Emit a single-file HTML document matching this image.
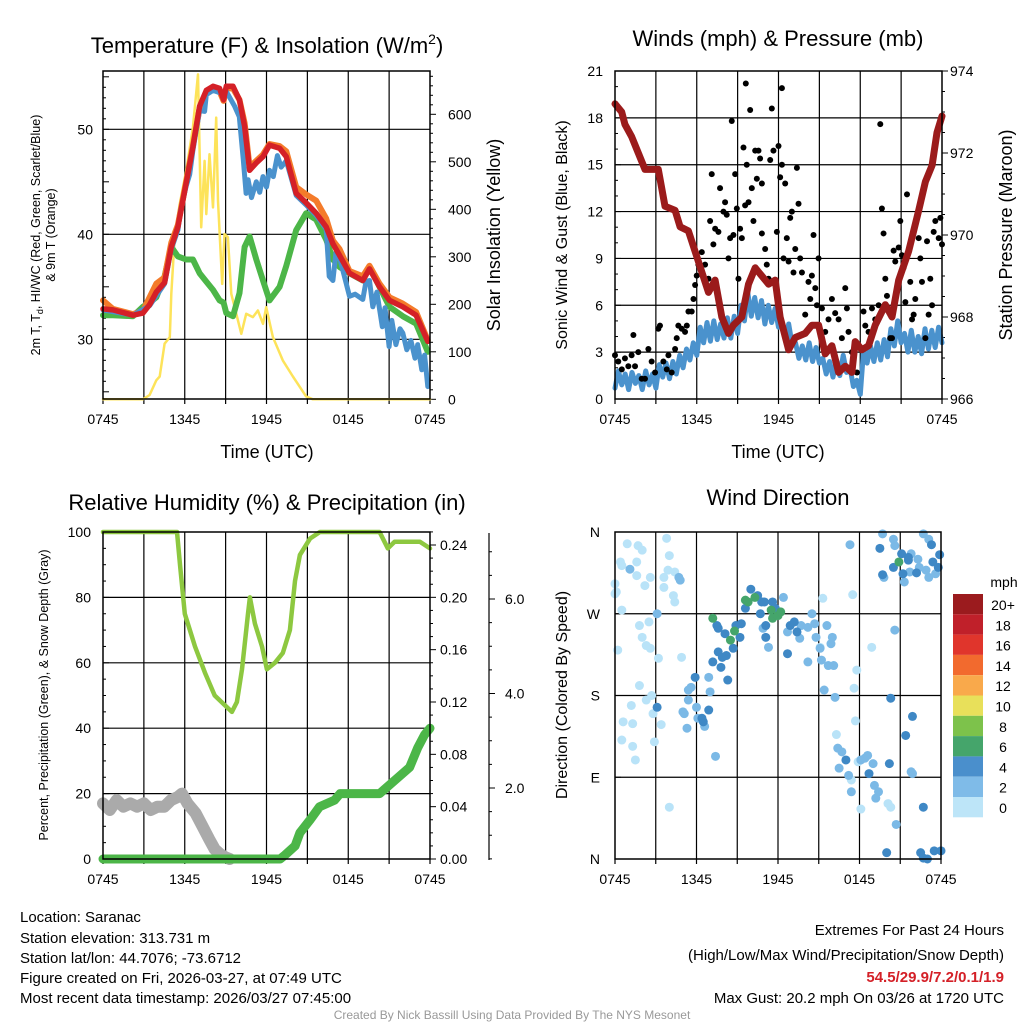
<!DOCTYPE html>
<html><head><meta charset="utf-8">
<style>
html,body{margin:0;padding:0;background:#fff;}
svg{display:block;font-family:"Liberation Sans",Arial,sans-serif;}
</style></head>
<body>
<svg id="chart" width="1024" height="1024" viewBox="0 0 1024 1024" xmlns="http://www.w3.org/2000/svg">
<rect width="1024" height="1024" fill="#fff"/>
<text x="267" y="53" font-size="22" text-anchor="middle">Temperature (F) &amp; Insolation (W/m<tspan font-size="14" dy="-9">2</tspan><tspan dy="9">)</tspan></text>
<text x="778" y="46" font-size="22" text-anchor="middle">Winds (mph) &amp; Pressure (mb)</text>
<text x="267" y="510" font-size="22" text-anchor="middle">Relative Humidity (%) &amp; Precipitation (in)</text>
<text x="778" y="505" font-size="22" text-anchor="middle">Wind Direction</text>
<g id="layer"></g>
<g font-size="15">
<text x="20" y="922">Location: Saranac</text>
<text x="20" y="943">Station elevation: 313.731 m</text>
<text x="20" y="963">Station lat/lon: 44.7076; -73.6712</text>
<text x="20" y="983">Figure created on Fri, 2026-03-27, at 07:49 UTC</text>
<text x="20" y="1003">Most recent data timestamp: 2026/03/27 07:45:00</text>
</g>
<g font-size="15" text-anchor="end">
<text x="1004" y="935">Extremes For Past 24 Hours</text>
<text x="1004" y="960">(High/Low/Max Wind/Precipitation/Snow Depth)</text>
<text x="1004" y="982" fill="#d42027" font-weight="bold">54.5/29.9/7.2/0.1/1.9</text>
<text x="1004" y="1003">Max Gust: 20.2 mph On 03/26 at 1720 UTC</text>
</g>
<text x="512" y="1019" font-size="12" fill="#999" text-anchor="middle">Created By Nick Bassill Using Data Provided By The NYS Mesonet</text>
</svg>
<script>
// ---------- data ----------
const timeTicks = ["0745","1345","1945","0145","0745"];
const tempHours = [0,0.73,2.2,2.93,3.42,3.91,4.52,5.01,5.5,6.11,6.6,7.09,7.58,8.07,8.56,8.85,9.05,9.54,10.02,10.39,10.76,11.25,11.74,12.22,12.96,13.45,14.18,14.91,15.65,16.38,16.87,17.36,18.09,19.07,19.56,20.29,21.03,22.0,22.98,23.84];
const redTemp = [32.9,32.8,32.3,32.5,33.3,34.5,35.4,38.8,40.7,44.9,48.3,52.2,53.7,54.1,53.9,52.8,54.1,54.1,52.8,50.3,46.1,46.8,47.4,48.5,48.2,47.4,43.9,43.0,42.0,40.7,39.1,38.0,36.3,35.6,36.7,35.0,33.7,33.1,32.3,29.8];
const orangeTemp = [33.7,32.9,32.4,32.7,34.0,35.3,35.9,39.2,40.9,45.0,48.4,52.0,53.4,53.8,53.6,52.7,53.9,53.9,52.8,50.6,46.4,47.0,47.6,48.6,48.4,47.9,44.5,43.8,43.2,41.5,39.4,38.6,36.5,36.0,37.0,35.3,34.0,33.4,32.6,29.9];
const greenTemp = [32.3,32.3,32.2,33.1,33.5,34.0,36.0,38.8,37.9,37.6,37.6,36.3,35.5,34.7,33.7,33.5,32.5,32.2,34.4,38.8,39.8,37.6,35.6,33.7,35.0,37.0,40.4,42.0,41.4,39.5,37.6,36.9,36.3,35.6,36.9,35.0,33.1,32.2,31.5,28.8];
const blueHours = [0,2.2,3.42,4.52,5.01,5.5,5.7,6.11,6.36,6.6,7.09,7.46,7.58,8.07,8.56,9.05,9.66,10.0,10.3,10.5,10.65,10.9,11.25,11.5,11.74,12.0,12.22,12.5,12.8,13.08,13.45,14.18,14.91,15.65,16.38,16.6,16.87,17.1,17.36,18.09,18.5,19.07,19.3,19.56,19.8,20.1,20.5,20.7,21.0,21.2,21.5,21.8,22.0,22.3,22.6,22.9,23.1,23.4,23.6,23.84];
const blueTemp = [32.8,32.3,33.2,35.3,38.6,40.4,42.3,44.6,45.7,48.0,51.8,51.7,53.3,53.7,53.5,53.6,52.2,51.2,47.1,43.9,45.2,43.5,45.0,44.0,45.5,44.5,46.1,45.5,47.5,46.4,47.0,43.7,42.8,41.8,40.5,36.0,35.6,38.3,37.8,34.1,34.3,33.8,35.5,35.6,33.1,34.5,31.2,33.0,29.3,31.8,29.5,31.0,30.6,29.0,29.9,28.2,29.5,27.1,28.5,25.5];
const solarHours = [0,2.93,3.42,3.91,4.16,4.52,4.9,4.95,5.01,5.26,5.63,6.11,6.6,6.97,7.09,7.21,7.46,7.58,7.82,8.07,8.31,8.44,8.75,8.92,9.17,9.42,9.78,10.15,10.51,11.0,11.37,11.74,11.98,12.47,13.2,13.94,14.91,15.4,24];
const solarW = [0,0,9,40,48,117,131,166,222,341,411,481,572,684,523,362,502,390,516,404,593,418,243,348,341,222,180,138,180,173,187,159,194,131,82,48,6,0,0];

const windMph = [0.7,1.8,0.9,1.6,0.6,1.7,1.0,1.5,0.6,1.8,0.9,1.6,0.7,
 2.2,1.4,2.3,1.3,2.4,1.6,2.8,2.0,
 3.2,2.5,3.6,2.8,
 4.6,3.6,4.9,3.7,5.0,3.8,4.8,3.9,
 5.2,3.9,5.3,4.2,
 6.0,5.0,6.8,5.3,6.5,5.2,
 6.3,4.8,6.0,4.9,5.8,4.6,
 5.0,3.8,4.8,3.5,
 3.6,2.6,3.4,2.5,3.6,2.4,3.3,2.3,
 2.6,1.6,2.4,1.4,2.5,1.5,2.8,1.7,
 2.0,0.8,1.2,0.3,
 3.2,2.3,3.4,2.4,3.6,2.5,3.8,2.7,
 4.5,3.4,5.0,3.6,
 4.2,3.0,4.4,3.0,4.0,2.9,4.5,3.2,4.4,3.3,4.6,3.6];
const windHours = windMph.map((v, i) => i * 0.25);
const pressHours = [0,0.49,0.73,1.22,1.71,2.2,2.69,3.18,3.67,4.41,4.78,5.39,5.88,6.37,6.86,7.35,7.84,8.33,8.69,9.31,9.8,10.29,10.78,11.27,11.76,12.12,12.74,13.23,13.96,14.45,14.94,15.43,15.92,16.41,16.9,17.39,17.63,18.12,18.61,19.1,19.84,20.33,20.82,21.55,22.29,22.78,23.27,23.63,24];
const pressMb = [973.2,973.0,972.7,972.4,972.0,971.6,971.6,971.6,970.7,970.6,970.2,970.1,969.6,969.1,968.6,968.9,968.0,967.6,967.8,968.0,968.8,969.2,969.0,968.8,968.9,968.0,967.2,967.5,967.6,967.8,967.8,967.1,967.3,966.65,966.8,966.65,967.4,967.2,967.3,967.8,968.3,968.0,968.9,969.6,970.6,971.3,971.7,972.5,972.9];
const gustHours = [0,0.24,0.5,0.73,0.98,1.22,1.35,1.47,1.71,1.96,2.2,2.45,2.69,2.94,3.18,3.3,3.55,3.8,3.92,4.16,4.41,4.53,4.65,4.9,5.14,5.27,5.39,5.63,5.76,5.88,6.0,6.12,6.37,6.61,6.86,6.98,7.1,7.22,7.35,7.59,7.71,7.96,8.08,8.2,8.33,8.45,8.57,8.69,8.82,8.94,9.06,9.18,9.31,9.43,9.55,9.6,9.67,9.8,9.92,10.04,10.16,10.29,10.41,10.53,10.65,10.78,10.78,11.02,11.14,11.27,11.39,11.51,11.63,11.88,12.0,12.12,12.25,12.25,12.37,12.49,12.61,12.74,12.86,12.98,13.1,13.23,13.35,13.47,13.59,13.72,13.96,14.2,14.33,14.45,14.57,14.7,14.82,14.94,15.19,15.43,15.67,15.92,16.16,16.41,16.65,16.9,17.02,17.14,17.39,17.76,18.24,18.37,18.61,18.86,19.1,19.35,19.47,19.59,19.71,19.84,19.96,20.2,20.33,20.45,20.57,20.82,20.94,21.06,21.18,21.31,21.43,21.67,21.8,21.92,22.04,22.29,22.41,22.53,22.78,22.9,23.02,23.14,23.27,23.39,23.51,23.76,23.88,24];
const gustMph = [2.8,2.4,1.9,2.6,2.1,2.8,4.1,2.1,3.0,1.3,1.3,3.2,2.4,1.7,4.5,4.7,2.4,1.9,2.8,1.7,3.2,3.9,4.7,4.5,4.3,4.7,5.6,5.6,6.4,7.3,7.9,8.6,9.4,8.6,7.7,11.4,14.4,9.9,10.9,10.7,13.5,12.0,12.6,11.8,9.0,10.3,17.8,10.5,14.4,12.2,7.7,10.9,10.3,16.1,12.4,20.2,15.0,12.6,18.5,13.5,11.4,15.9,14.1,15.9,15.4,13.8,10.6,9.6,8.6,7.7,15.3,18.6,15.9,10.7,16.2,14.2,19.9,15.0,9.0,13.8,10.3,8.8,11.6,12.0,8.1,9.6,14.8,12.5,9.0,8.1,5.4,7.5,6.4,7.9,10.5,7.1,6.0,9.0,5.8,4.3,5.1,6.4,5.5,5.1,3.9,7.1,5.8,4.3,3.0,1.7,5.6,4.7,4.3,5.8,5.1,6.0,17.6,12.2,10.6,7.7,6.6,3.9,3.9,9.5,8.8,9.7,11.4,9.2,8.4,6.2,13.1,7.5,5.1,5.4,6.4,10.3,9.0,7.5,3.9,10.1,5.4,7.7,6.0,10.7,11.4,10.3,11.6,9.9];

const rhHours = [0,5.43,5.65,6.0,6.75,7.48,8.2,8.95,9.46,9.83,10.2,10.64,10.78,11.15,11.67,12.03,12.62,13.2,13.72,14.09,14.45,15.2,15.92,20.3,20.9,21.4,23.26,24];
const rhPct = [100,100,90,75,65,57,50,47,45,48,58,75,80,72,65,58,60,63,70,85,93,98,100,100,95,97,97,95];
const precipHours = [0,13.0,13.35,14.1,14.45,15.2,15.9,17.0,17.4,20.3,21.4,22.5,23.1,23.6,24];
const precipIn = [0,0,0.003,0.01,0.02,0.03,0.04,0.045,0.05,0.05,0.06,0.07,0.085,0.095,0.1];
const snowHours = [0,0.5,1,1.5,2,2.5,3,3.5,4,4.5,5,5.5,5.8,6.2,6.8,7.3,7.8,8.2,8.6,9.0,9.3];
const snowPct = [17,15,18,16,17,16,17,15,16,16,18,19,20,17,14,10,6,3,1.5,0.5,0];

// wind direction points grouped by speed class
const dirLightHours = [0,0.1,0.4,0.5,0.9,1.6,1.7,2.0,2.2,2.6,1.6,0.2,1.8,2.0,2.5,2.3,2.6,3.2,3.6,3.6,3.8,4.0,4.3,4.4,4.4,4.9,3.9,0.5,0,1.8,1.2,0.6,1.3,2.3,2.7,2.8,2.9,0.5,1.3,1.5,3.4,4.0,15.3,17.5,18.9,17.8,17.6,17.7,16.3,17.9,18.1,17.4,20.1,20.3,15.1];
const dirLightDeg = [303,294,327,274,347,327,345,340,301,310,312,230,257,244,261,235,232,221,299,310,353,334,290,316,283,222,318,323,292,191,169,151,149,175,180,160,129,131,124,109,148,57,287,291,233,208,188,152,137,107,55,87,61,57,233];
const dirMidHours = [1.1,4.7,4.8,3.1,5.4,5.6,5.4,5.0,5.1,5.3,6.0,6.1,6.6,6.9,7.0,7.4,10.9,11.3,12.4,12.7,13.6,13.7,14.2,14.5,14.7,14.8,15.1,15.6,15.7,16.0,15.9,14.2,15.2,16.1,15.4,16.2,17.3,16.4,16.7,16.5,17.2,18.1,18.4,18.6,19.0,19.1,19.4,19.2,17.4,20.6,20.7,21.8,21.9,19.7,20.5,20.6,21.8,22.3,22.9,23.1,22.7,23.1,23.6,21.7,21.3,19.8,22.4];
const dirMidDeg = [319,310,307,270,186,189,175,162,160,144,167,155,146,200,184,113,254,233,288,250,243,257,255,270,259,244,232,257,213,244,237,217,219,213,186,178,346,122,118,100,92,109,111,114,105,81,74,67,74,252,38,96,94,358,352,345,336,330,318,310,358,352,314,316,305,310,321];
const dirDarkHours = [3.1,5.9,6.5,6.9,6.4,7.2,7.6,7.8,7.9,8.2,8.3,7.5,7.6,8.1,8.7,8.9,9.2,9.3,9.6,10.0,10.5,10.8,11.0,10.7,11.1,11.6,11.8,12.1,12.7,12.9,13.2,13.4,11.1,17.0,18.7,20.2,20.3,21.4,21.9,22.7,20.0,22.5,22.7,23.0,23.5,24,19.5,19.7,20.5,21.1,21.6,21.6,22.2,23.4,23.8,23.9,23.3,21.2];
const dirDarkDeg = [167,200,151,164,155,217,228,211,222,224,197,257,254,248,232,257,244,259,276,297,290,283,283,270,257,283,276,272,226,257,261,250,244,109,94,105,177,136,157,57,7,7,1,0,9,9,342,313,321,336,332,329,315,327,321,335,346,314];
const dirGreenHours = [7.2,8.8,8.5,9.6,9.8,10.3,11.5,11.6,12.0,12.2,20.9];
const dirGreenDeg = [265,251,241,285,283,288,274,265,268,272,327];
const cbLabels = ["20+","18","16","14","12","10","8","6","4","2","0"];
const cbColors = ["#9b1b1e","#c0202a","#e0352c","#f26a2e","#f9a94b","#e8e05a","#7dc24b","#45a56b","#4a8fcc","#7fbbe8","#bde5f8"];

// ---------- helpers ----------
const NS = "http://www.w3.org/2000/svg";
const layer = document.getElementById("layer");
function mk(tag, attrs, parent) {
  const e = document.createElementNS(NS, tag);
  for (const k in attrs) e.setAttribute(k, attrs[k]);
  (parent || layer).appendChild(e);
  return e;
}
function txt(s, x, y, size, anchor, parent, rot) {
  const t = mk("text", {x: x, y: y, "font-size": size, "text-anchor": anchor || "middle"}, parent);
  if (rot) t.setAttribute("transform", "rotate(" + rot + " " + x + " " + y + ")");
  t.textContent = s;
  return t;
}
function scale(d0, d1, r0, r1) { return v => r0 + (v - d0) / (d1 - d0) * (r1 - r0); }
function poly(xs, ys, fx, fy, color, w, name) {
  let d = "";
  for (let i = 0; i < xs.length; i++) d += (i ? "L" : "M") + fx(xs[i]).toFixed(1) + "," + fy(ys[i]).toFixed(1);
  const p = mk("path", {d: d, fill: "none", stroke: color, "stroke-width": w, "stroke-linejoin": "round", "stroke-linecap": "round"});
  
  
  return p;
}
function frame(x0, y0, x1, y1, fx, hGrid, name) {
  const g = mk("g", {});
  
  
  for (let h = 3; h < 24; h += 3) mk("line", {x1: fx(h), x2: fx(h), y1: y0, y2: y1, stroke: "#000", "stroke-width": 1.2}, g);
  hGrid.forEach(y => mk("line", {x1: x0, x2: x1, y1: y, y2: y, stroke: "#000", "stroke-width": 1.2}, g));
  for (let h = 0; h <= 24; h += 3) mk("line", {x1: fx(h), x2: fx(h), y1: y1, y2: y1 + 5, stroke: "#000", "stroke-width": 1.2}, g);
  timeTicks.forEach((s, i) => txt(s, fx(i * 6), y1 + 25, 14, "middle", g));
  return g;
}
function box(x0, y0, x1, y1) {
  const r = mk("rect", {x: x0, y: y0, width: x1 - x0, height: y1 - y0, fill: "none", stroke: "#000", "stroke-width": 1.5});
  
  
}

// ---------- Panel 1: temperature ----------
{
  const X0 = 103, X1 = 430, Y0 = 71, Y1 = 399;
  const fx = scale(0, 24, X0, X1);
  const fy = scale(30, 50, 339.3, 129.3);
  const fs = scale(0, 600, 399.3, 114.3);
  const g = frame(X0, Y0, X1, Y1, fx, [fy(30), fy(40), fy(50)], "temperature-grid");
  [30, 40, 50].forEach(v => txt(String(v), X0 - 10, fy(v) + 5, 14, "end", g));
  for (let v = 25; v <= 55; v++) mk("line", {x1: X0, x2: X0 + (v % 5 ? 3 : 6), y1: fy(v), y2: fy(v), stroke: "#000", "stroke-width": 1}, g);
  for (let v = 0; v <= 680; v += 20) mk("line", {x1: X1, x2: X1 + (v % 100 ? 3 : 6), y1: fs(v), y2: fs(v), stroke: "#000", "stroke-width": 1}, g);
  for (let v = 0; v <= 600; v += 100) txt(String(v), X1 + 18, fs(v) + 5, 14, "start", g);
  const yl = txt("Solar Insolation (Yellow)", 500, 235, 18, "middle", g, -90);
  
  const l1 = txt("", 40, 235, 12.5, "middle", g, -90);
  l1.innerHTML = '2m T, T<tspan font-size="9" dy="3">d</tspan><tspan dy="-3">, HI/WC (Red, Green, Scarlet/Blue)</tspan>';
  
  txt("& 9m T (Orange)", 55, 235, 12.5, "middle", g, -90);
  txt("Time (UTC)", 267, 458, 18, "middle", g);
  poly(solarHours, solarW, fx, fs, "#fde35a", 2.5, "solar-line");
  poly(tempHours, greenTemp, fx, fy, "#4cb648", 6, "dewpoint-line");
  poly(tempHours, orangeTemp, fx, fy, "#f47b2a", 6, "temp-9m-line");
  poly(blueHours, blueTemp, fx, fy, "#4a92cd", 5, "windchill-line");
  poly(tempHours, redTemp, fx, fy, "#d42027", 5.5, "temp-2m-line");
  box(X0, Y0, X1, Y1);
}

// ---------- Panel 2: winds ----------
{
  const X0 = 615, X1 = 942, Y0 = 71, Y1 = 399;
  const fx = scale(0, 24, X0, X1);
  const fy = scale(0, 21, Y1, Y0);
  const fp = scale(966, 974, Y1, Y0);
  const grid = []; for (let v = 3; v < 21; v += 3) grid.push(fy(v));
  const g = frame(X0, Y0, X1, Y1, fx, grid, "winds-grid");
  for (let v = 0; v <= 21; v += 3) txt(String(v), X0 - 12, fy(v) + 5, 14, "end", g);
  for (let v = 0; v <= 21; v += 1) mk("line", {x1: X0, x2: X0 + (v % 3 ? 3 : 6), y1: fy(v), y2: fy(v), stroke: "#000"}, g);
  for (let v = 966; v <= 974; v += 0.5) mk("line", {x1: X1, x2: X1 + (v % 2 ? 3 : 6), y1: fp(v), y2: fp(v), stroke: "#000"}, g);
  for (let v = 966; v <= 974; v += 2) txt(String(v), X1 + 8, fp(v) + 5, 14, "start", g);
  const a = txt("Sonic Wind & Gust (Blue, Black)", 567, 235, 16, "middle", g, -90);
  
  const b = txt("Station Pressure (Maroon)", 1012, 235, 18, "middle", g, -90);
  
  txt("Time (UTC)", 778, 458, 18, "middle", g);
  poly(windHours, windMph, fx, fy, "#4a92cd", 5, "wind-speed-line");
  const dg = mk("g", {});
  
  
  for (let i = 0; i < gustHours.length; i++) {
    const c = mk("circle", {cx: fx(gustHours[i]), cy: fy(gustMph[i]), r: 3, fill: "#000"}, dg);
    
    
  }
  poly(pressHours, pressMb, fx, fp, "#9b1b1b", 7, "pressure-line");
  box(X0, Y0, X1, Y1);
}

// ---------- Panel 3: humidity ----------
{
  const X0 = 103, X1 = 430, Y0 = 532, Y1 = 859;
  const fx = scale(0, 24, X0, X1);
  const fy = scale(0, 100, Y1, Y0);
  const fpr = scale(0, 0.24, 859, 545);
  const fsn = scale(2, 6, 788, 599);
  const g = frame(X0, Y0, X1, Y1, fx, [fy(20), fy(40), fy(60), fy(80)], "humidity-grid");
  for (let v = 0; v <= 100; v += 20) txt(String(v), X0 - 12, fy(v) + 5, 14, "end", g);
  for (let v = 0; v <= 100; v += 5) mk("line", {x1: X0, x2: X0 + (v % 20 ? 3 : 6), y1: fy(v), y2: fy(v), stroke: "#000"}, g);
  for (let i = 0; i <= 25; i++) { const v = i * 0.01; mk("line", {x1: X1, x2: X1 + (i % 4 ? 3 : 6), y1: fpr(v), y2: fpr(v), stroke: "#000"}, g); }
  for (let i = 0; i <= 6; i++) txt((i * 0.04).toFixed(2), X1 + 10, fpr(i * 0.04) + 5, 14, "start", g);
  const sa = mk("line", {x1: 489, x2: 489, y1: 533, y2: 860, stroke: "#000", "stroke-width": 1.2}, g);
  
  for (let v = 0.5; v <= 7; v += 0.5) { const y = fsn(v); if (y > 533 && y < 860) mk("line", {x1: 489, x2: 489 + (v % 2 ? 3 : 6), y1: y, y2: y, stroke: "#000"}, g); }
  ["2.0", "4.0", "6.0"].forEach((s, i) => txt(s, 505, fsn((i + 1) * 2) + 5, 14, "start", g));
  const a = txt("Percent, Precipitation (Green), & Snow Depth (Gray)", 48, 695, 12.5, "middle", g, -90);
  
  poly(snowHours, snowPct, fx, fy, "#aaaaaa", 12, "snow-depth-line");
  poly(precipHours, precipIn, fx, fpr, "#4cb648", 9, "precip-line");
  poly(rhHours, rhPct, fx, fy, "#8dc840", 4.5, "humidity-line");
  box(X0, Y0, X1, Y1);
}

// ---------- Panel 4: wind direction ----------
{
  const X0 = 615, X1 = 941, Y0 = 532, Y1 = 859;
  const fx = scale(0, 24, X0, X1);
  const fy = scale(0, 360, Y1, Y0);
  const g = frame(X0, Y0, X1, Y1, fx, [fy(90), fy(180), fy(270)], "direction-grid");
  ["N", "E", "S", "W", "N"].forEach((s, i) => { txt(s, X0 - 15, fy(i * 90) + 5, 14, "end", g); mk("line", {x1: X0, x2: X0 + 6, y1: fy(i * 90), y2: fy(i * 90), stroke: "#000"}, g); });
  const a = txt("Direction (Colored By Speed)", 567, 695, 16, "middle", g, -90);
  
  const pg = mk("g", {});
  
  
  const groups = [
    [dirLightHours, dirLightDeg, "#b9e3f8"],
    [dirMidHours, dirMidDeg, "#7bb9e6"],
    [dirDarkHours, dirDarkDeg, "#3f88c5"],
    [dirGreenHours, dirGreenDeg, "#45a56b"]
  ];
  groups.forEach(gr => {
    for (let i = 0; i < gr[0].length; i++) {
      const c = mk("circle", {cx: fx(gr[0][i]), cy: fy(gr[1][i]), r: 4.5, fill: gr[2]}, pg);
      
      
    }
  });
  box(X0, Y0, X1, Y1);
  const cb = mk("g", {});
  
  
  txt("mph", 1004, 587, 14, "middle", cb);
  cbColors.forEach((c, i) => {
    const r = mk("rect", {x: 953, y: 594 + i * 20.3, width: 30, height: 20.3, fill: c}, cb);
    
    
    txt(cbLabels[i], 1003, 610 + i * 20.3, 14, "middle", cb);
  });
}
</script>
</body></html>
